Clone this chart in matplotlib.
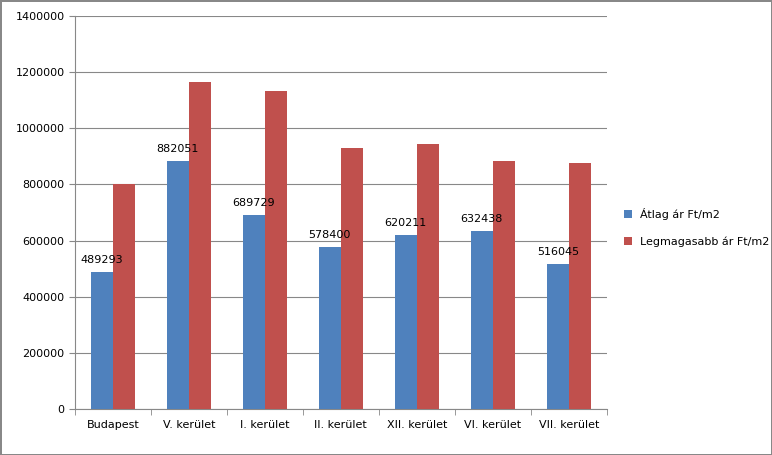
import matplotlib
matplotlib.use("Agg")
import matplotlib.pyplot as plt
import numpy as np

categories = ["Budapest", "V. kerület", "I. kerület", "II. kerület", "XII. kerület", "VI. kerület", "VII. kerület"]
atlag = [489293, 882051, 689729, 578400, 620211, 632438, 516045]
legmagasabb = [800000, 1165000, 1133000, 930000, 945000, 883000, 877000]
yticks = [0, 200000, 400000, 600000, 800000, 1000000, 1200000, 1400000]

fig = plt.figure(figsize=(7.72, 4.55), dpi=100)
fig.patch.set_edgecolor("#888888")
fig.patch.set_linewidth(1)
ax = fig.add_axes([0.097, 0.101, 0.689, 0.864])
x = np.arange(len(categories))
w = 0.29
b1 = ax.bar(x - w/2, atlag, w, color="#4F81BD", label="Átlag ár Ft/m2", zorder=3)
b2 = ax.bar(x + w/2, legmagasabb, w, color="#C0504D", label="Legmagasabb ár Ft/m2", zorder=3)
for xi, v in zip(x, atlag):
    ax.text(xi - w/2, v + 25000, str(v), ha="center", va="bottom", fontsize=8, family="DejaVu Sans")
ax.set_ylim(0, 1400000)
ax.set_xlim(-0.5, len(categories) - 0.5)
ax.set_yticks(yticks)
ax.set_yticklabels([str(t) for t in yticks], fontsize=8)
ax.set_xticks(x)
ax.set_xticklabels(categories, fontsize=8)
ax.set_xticks(np.arange(-0.5, len(categories)), minor=True)
ax.tick_params(axis="x", which="major", length=0, pad=8)
ax.tick_params(axis="x", which="minor", length=4, color="#888888")
ax.tick_params(axis="y", length=4, color="#888888")
ax.yaxis.grid(True, color="#888888", linewidth=0.8, zorder=0)
for s in ["top", "right"]:
    ax.spines[s].set_visible(False)
for s in ["left", "bottom"]:
    ax.spines[s].set_color("#888888")
fig.legend(handles=[b1, b2], loc="center left", bbox_to_anchor=(0.795, 0.5), frameon=False, fontsize=8, handlelength=0.7, handleheight=0.7, labelspacing=1.5)
fig.savefig("out.png", dpi=100, edgecolor=fig.get_edgecolor())
